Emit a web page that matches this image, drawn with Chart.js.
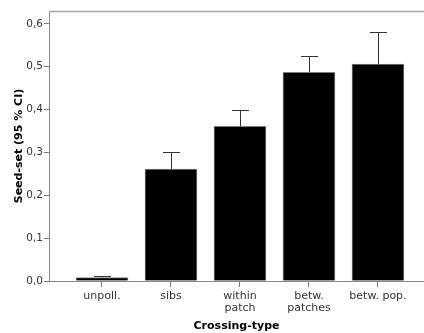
<!DOCTYPE html>
<html>
<head>
<meta charset="utf-8">
<script src="https://cdn.jsdelivr.net/npm/chart.js@4"></script>
<style>
html,body{margin:0;padding:0;background:#fff;overflow:hidden;}
#wrap{width:424px;height:333px;position:relative;}
</style>
</head>
<body>
<div id="wrap"><canvas id="c" width="424" height="333"></canvas></div>
<script>
const categories = ['unpoll.', 'sibs', ['within', 'patch'], ['betw.', 'patches'], 'betw. pop.'];
const seedSet = [0.008, 0.261, 0.361, 0.487, 0.506];
const ciUpper = [0.012, 0.301, 0.399, 0.524, 0.580];
const yTicks = [0, 0.1, 0.2, 0.3, 0.4, 0.5, 0.6];
const yTickLabels = ['0,0', '0,1', '0,2', '0,3', '0,4', '0,5', '0,6'];

const FONT = 'DejaVu Sans';

const errorBars = {
  id: 'errorBars',
  afterDatasetsDraw(chart) {
    const ctx = chart.ctx;
    const xs = chart.scales.x, ys = chart.scales.y;
    ctx.save();
    ctx.strokeStyle = '#333';
    ctx.lineWidth = 1;
    seedSet.forEach((v, i) => {
      const x = Math.round(xs.getPixelForValue(i)) + 0.5;
      const y0 = ys.getPixelForValue(v);
      const y1 = Math.round(ys.getPixelForValue(ciUpper[i])) + 0.5;
      ctx.beginPath();
      ctx.moveTo(x, y0);
      ctx.lineTo(x, y1);
      ctx.moveTo(x - 8.5, y1);
      ctx.lineTo(x + 8.5, y1);
      ctx.stroke();
    });
    ctx.restore();
  }
};

const topBorder = {
  id: 'topBorder',
  afterDraw(chart) {
    const {ctx, chartArea} = chart;
    ctx.save();
    ctx.strokeStyle = '#a8a8a8';
    ctx.lineWidth = 1.5;
    ctx.beginPath();
    ctx.moveTo(chartArea.left, chartArea.top + 0.5);
    ctx.lineTo(chartArea.right, chartArea.top + 0.5);
    ctx.stroke();
    ctx.restore();
  }
};

new Chart(document.getElementById('c'), {
  type: 'bar',
  data: {
    datasets: [{
      data: seedSet.map((v, i) => ({x: i, y: v})),
      backgroundColor: '#000',
      borderColor: '#808080',
      borderWidth: 1,
      barThickness: 52
    }]
  },
  plugins: [errorBars, topBorder],
  options: {
    responsive: false,
    animation: false,
    layout: {padding: {top: 11, right: 0, bottom: 0, left: 0}},
    plugins: {legend: {display: false}, tooltip: {enabled: false}},
    scales: {
      x: {
        type: 'linear',
        min: -0.768,
        max: 4.667,
        offset: false,
        afterBuildTicks: (axis) => { axis.ticks = categories.map((c, i) => ({value: i})); },
        afterFit: (scale) => { scale.height = 52; },
        grid: {display: true, drawOnChartArea: false, tickLength: 6, color: '#777', offset: false},
        border: {display: true, color: '#888', width: 1},
        ticks: {
          autoSkip: false,
          maxRotation: 0,
          padding: 3,
          color: '#333',
          font: {family: FONT, size: 11, lineHeight: 1.1},
          callback: (v) => categories[v]
        },
        title: {
          display: true,
          text: 'Crossing-type',
          color: '#000',
          font: {family: FONT, size: 11, weight: 'bold', lineHeight: 1.2},
          padding: {top: 0, bottom: 0}
        }
      },
      y: {
        min: 0,
        max: 0.63,
        afterBuildTicks: (axis) => { axis.ticks = yTicks.map(v => ({value: v})); },
        afterFit: (scale) => { scale.width = 49; },
        grid: {display: true, drawOnChartArea: false, tickLength: 5, color: '#777'},
        border: {display: true, color: '#888', width: 1},
        ticks: {
          padding: 1,
          color: '#333',
          font: {family: FONT, size: 10.5},
          callback: (v) => { const i = yTicks.findIndex(t => Math.abs(t - v) < 1e-9); return i >= 0 ? yTickLabels[i] : ''; }
        },
        title: {
          display: true,
          text: 'Seed-set (95 % CI)',
          color: '#000',
          font: {family: FONT, size: 11, weight: 'bold', lineHeight: 1.2},
          padding: {top: 13, bottom: 0}
        }
      }
    }
  }
});
</script>
</body>
</html>
